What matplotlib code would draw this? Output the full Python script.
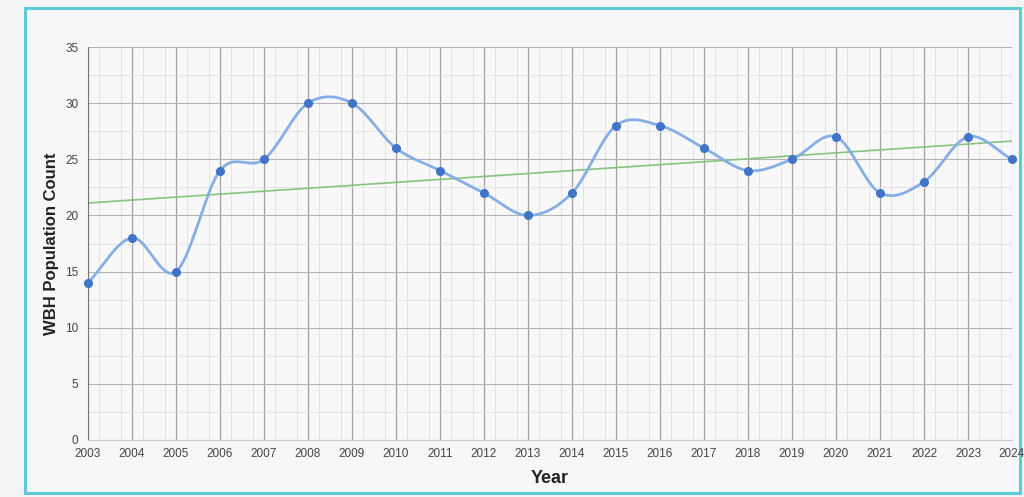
import numpy as np
import matplotlib
matplotlib.use("Agg")
import matplotlib.pyplot as plt
from matplotlib.patches import Rectangle

plt.rcParams["font.family"] = ["Liberation Sans", "DejaVu Sans"]

years = [2003, 2004, 2005, 2006, 2007, 2008, 2009, 2010, 2011, 2012, 2013,
         2014, 2015, 2016, 2017, 2018, 2019, 2020, 2021, 2022, 2023, 2024]
counts = [14, 18, 15, 24, 25, 30, 30, 26, 24, 22, 20,
          22, 28, 28, 26, 24, 25, 27, 22, 23, 27, 25]
y_ticks = [0, 5, 10, 15, 20, 25, 30, 35]

x = np.array(years, dtype=float)
y = np.array(counts, dtype=float)

# Catmull-Rom style smoothing through the data points
n = len(x)
m = np.zeros(n)
m[1:-1] = (y[2:] - y[:-2]) / 2.0
m[0] = y[1] - y[0]
m[-1] = y[-1] - y[-2]
xs, ys = [], []
for i in range(n - 1):
    t = np.linspace(0, 1, 40)
    h00 = 2 * t**3 - 3 * t**2 + 1
    h10 = t**3 - 2 * t**2 + t
    h01 = -2 * t**3 + 3 * t**2
    h11 = t**3 - t**2
    xs.append(x[i] + t)
    ys.append(h00 * y[i] + h10 * m[i] + h01 * y[i + 1] + h11 * m[i + 1])
xs = np.concatenate(xs)
ys = np.concatenate(ys)

coef = np.polyfit(x, y, 1)
trend = np.polyval(coef, x)

fig = plt.figure(figsize=(10.24, 4.97), dpi=100)
fig.patch.set_facecolor("#f3f4f5")
# inner panel + cyan frame
fig.patches.append(Rectangle((25 / 1024, 1 - 493 / 497), 995 / 1024, 485 / 497,
                             transform=fig.transFigure, facecolor="#f6f7f8",
                             edgecolor="#5ccad8", linewidth=2.2, zorder=-10))

ax = fig.add_axes([88 / 1024, 1 - 440 / 497, 924 / 1024, 393 / 497])
ax.set_zorder(5)
ax.set_facecolor("#f8f8f8")

ax.plot(xs, ys, color="#86aee6", linewidth=2.0, zorder=3, clip_on=False)
ax.plot(x, y, "o", color="#3f74c9", markersize=5.5, zorder=4, clip_on=False)
ax.plot(x, trend, color="#86c47e", linewidth=1.2, zorder=2)

ax.set_xlim(years[0], years[-1])
ax.set_ylim(0, 35)
ax.set_xticks(years)
ax.set_xticklabels([str(v) for v in years])
ax.set_yticks(y_ticks)
ax.set_xticks(np.arange(years[0], years[-1], 0.5) + 0.25, minor=True)
ax.set_yticks(np.arange(0, 35, 2.5), minor=True)
ax.grid(which="major", axis="x", color="#a0a0a0", linewidth=0.9)
ax.grid(which="major", axis="y", color="#b4b4b4", linewidth=0.8)
ax.grid(which="minor", color="#e0e0e0", linewidth=0.6)
ax.set_axisbelow(True)
ax.tick_params(which="both", length=0)
ax.tick_params(axis="both", labelsize=8.5, colors="#444444")
ax.tick_params(axis="x", pad=6)
ax.tick_params(axis="y", pad=7)

for s in ["top", "right"]:
    ax.spines[s].set_visible(False)
ax.spines["left"].set_color("#777777")
ax.spines["bottom"].set_color("#cccccc")

ax.set_xlabel("Year", fontsize=13, fontweight="bold", color="#222222", labelpad=7)
ax.set_ylabel("WBH Population Count", fontsize=12, fontweight="bold",
              color="#222222", labelpad=4)

fig.savefig("out.png", dpi=100, facecolor=fig.get_facecolor())
